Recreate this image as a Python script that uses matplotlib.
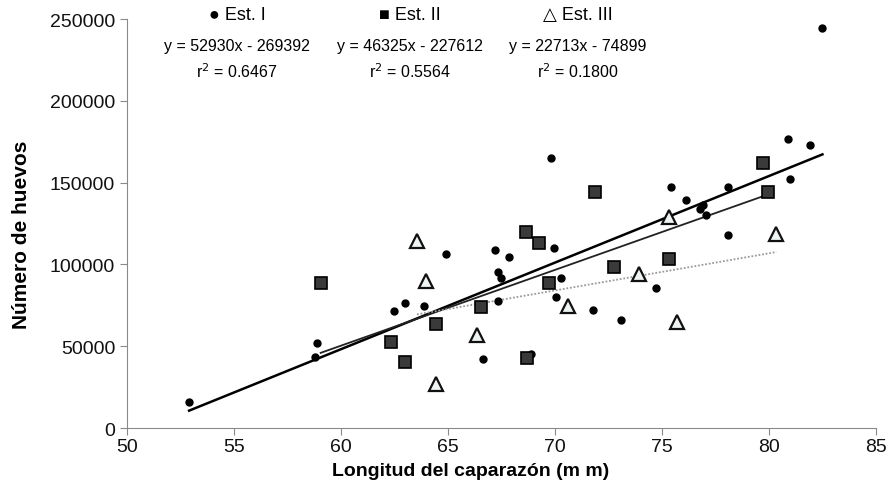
import numpy as np
import matplotlib.pyplot as plt

plt.rcParams['font.family'] = ['Liberation Sans', 'DejaVu Sans']

# Est. I (circulos)
est1_x = [52.9, 58.9, 58.8, 62.5, 63.0, 63.9, 64.9, 66.65, 67.2, 67.35, 67.5, 67.35,
          67.85, 68.9, 69.8, 69.95, 70.05, 70.3, 71.8, 73.1, 74.7, 75.4, 76.1, 76.8,
          76.9, 77.05, 78.1, 78.1, 80.9, 81.0, 81.9, 82.5]
est1_y = [16000, 52000, 43400, 71500, 76400, 74600, 106300, 42400, 108800, 95200, 91500, 77400,
          104300, 45000, 165000, 110000, 79900, 91700, 72100, 66200, 85800, 147500, 139500, 133900,
          136500, 130400, 147600, 118200, 176600, 152200, 173200, 244300]

# Est. II (cuadrados)
est2_x = [59.05, 62.35, 63.0, 64.45, 66.55, 68.65, 68.7, 69.25, 69.7, 71.85, 72.75, 75.35, 79.7, 79.95]
est2_y = [88600, 52400, 40100, 63800, 74000, 120000, 42600, 113100, 88400, 144400, 98700, 103300, 161800, 144400]

# Est. III (triangulos)
est3_x = [63.55, 63.95, 64.45, 66.35, 70.6, 73.95, 75.35, 75.7, 80.35]
est3_y = [114100, 90000, 26700, 56800, 74400, 94100, 129200, 64600, 118400]

# rectas de regresion (pendiente, intercepto)
fit1 = (5293.0, -269392)
fit2 = (4632.5, -227612)
fit3 = (2271.3, -74899)

names = ['Est. I', 'Est. II', 'Est. III']
eqs = ['y = 52930x - 269392', 'y = 46325x - 227612', 'y = 22713x - 74899']
r2s = ['r$^2$ = 0.6467', 'r$^2$ = 0.5564', 'r$^2$ = 0.1800']

fig = plt.figure(figsize=(8.92, 5.02), dpi=100)
ax = fig.add_axes([0.1424, 0.1454, 0.8396, 0.8146])

# lineas de tendencia
for xs, (a, b), st in [(est1_x, fit1, dict(color='black', lw=1.8, ls='-')),
                       (est2_x, fit2, dict(color='#222222', lw=1.3, ls='-')),
                       (est3_x, fit3, dict(color='#9a9a9a', lw=1.3, ls=(0, (1, 1))))]:
    xx = np.array([min(xs), max(xs)])
    ax.plot(xx, a * xx + b, zorder=2, **st)

ax.plot(est1_x, est1_y, 'o', ms=5, color='black', zorder=3)
ax.plot(est2_x, est2_y, 's', ms=8.5, mfc='#3a3a3a', mec='black', mew=1.2, zorder=3)
ax.plot(est3_x, est3_y, '^', ms=9.5, mfc='#eef3f3', mec='#111111', mew=1.6, zorder=3)

ax.set_xlim(50, 85)
ax.set_ylim(0, 250000)
ax.set_xticks(np.arange(50, 86, 5))
ax.set_yticks(np.arange(0, 250001, 50000))
for s in ['top', 'right']:
    ax.spines[s].set_visible(False)
for s in ['left', 'bottom']:
    ax.spines[s].set_color('#8a8a8a')
    ax.spines[s].set_linewidth(0.8)
ax.tick_params(direction='out', length=5, width=0.8, color='#8a8a8a', labelsize=14, labelcolor='#111111')
ax.tick_params(axis='x', pad=2)

# titulos de ejes
fig.text(471 / 892, 1 - 471 / 502, 'Longitud del caparazón (m m)', ha='center', va='center',
         fontsize=14, fontweight='bold')
fig.text(22 / 892, 1 - 235 / 502, 'Número de huevos', ha='center', va='center',
         rotation=90, fontsize=15, fontweight='bold')

# leyenda y ecuaciones arriba
centers = [237 / 892, 410 / 892, 578 / 892]
markers = ['●', '■', '△']
for cx, nm, mk, eq, r2 in zip(centers, names, markers, eqs, r2s):
    fig.text(cx, 1 - 15 / 502, mk + ' ' + nm, ha='center', va='center', fontsize=13)
    fig.text(cx, 1 - 46 / 502, eq, ha='center', va='center', fontsize=11.5)
    fig.text(cx, 1 - 72 / 502, r2, ha='center', va='center', fontsize=11.5)

fig.savefig('out.png', dpi=100)
